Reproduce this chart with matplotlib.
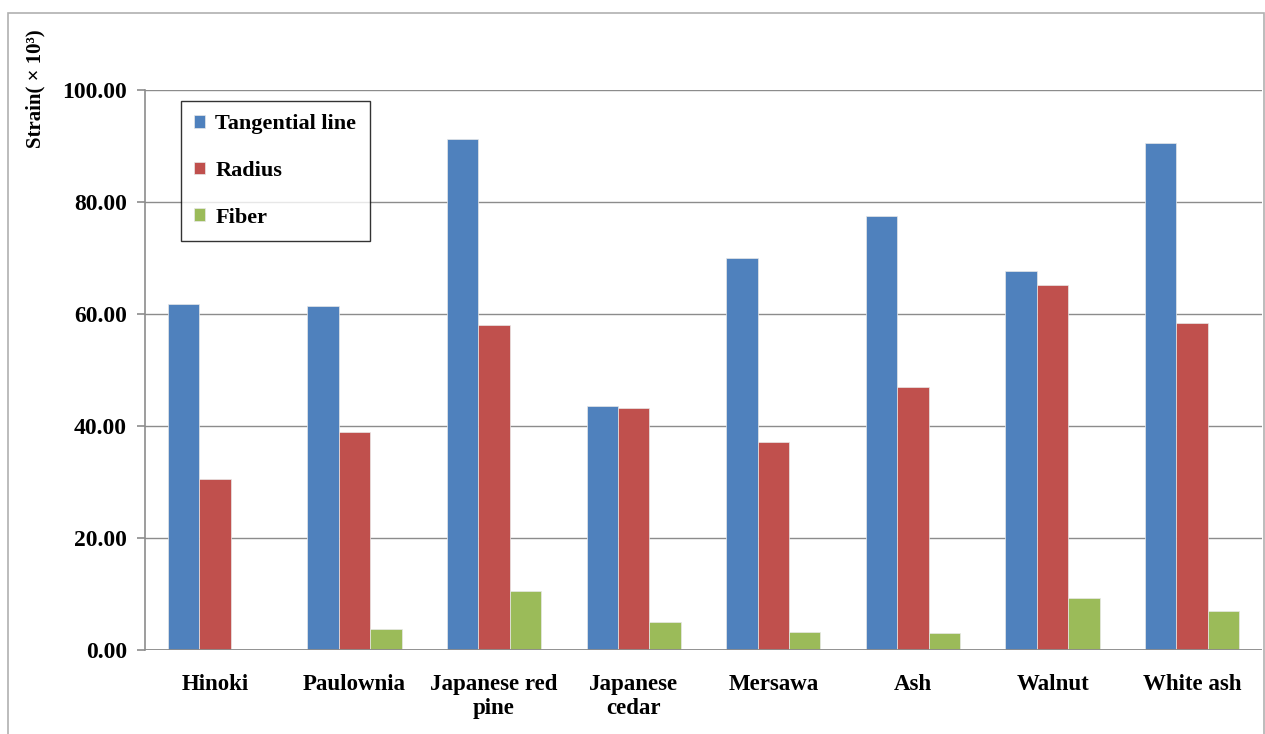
import matplotlib.pyplot as plt
import matplotlib.patches as patches
import numpy as np

woods = ["Hinoki", "Paulownia", "Japanese red\npine", "Japanese\ncedar",
         "Mersawa", "Ash", "Walnut", "White ash"]
tangential = [61.7, 61.5, 91.3, 43.6, 70.0, 77.5, 67.6, 90.5]
radius = [30.5, 38.9, 58.0, 43.2, 37.2, 47.0, 65.1, 58.4]
fiber = [-0.6, 3.8, 10.5, 5.0, 3.2, 3.0, 9.3, 6.9]
series = ["Tangential line", "Radius", "Fiber"]
colors = ["#4F81BD", "#C0504D", "#9BBB59"]

plt.rcParams['font.family'] = ['Liberation Serif', 'DejaVu Serif']
plt.rcParams['font.weight'] = 'bold'

fig = plt.figure(figsize=(12.65, 7.34), dpi=100)
ax = fig.add_axes([145 / 1265, 1 - 650 / 734, (1262 - 145) / 1265, 560 / 734])

# outer chart-area frame
fig.patches.append(patches.Rectangle((8 / 1265, -0.01), (1264 - 8) / 1265, 1 - 13 / 734 + 0.01,
                                     transform=fig.transFigure, fill=False,
                                     edgecolor="#B0B0B0", linewidth=1.2))

x = np.arange(len(woods))
w = 0.225
for i, (vals, name, c) in enumerate(zip([tangential, radius, fiber], series, colors)):
    ax.bar(x + (i - 1) * w, vals, w, color=c, edgecolor="#E8E8E8", linewidth=0.5,
           label=name, zorder=3)

ax.set_xlim(-0.5, 7.5)
ax.set_ylim(0, 100)
ax.set_yticks(np.arange(0, 101, 20))
ax.yaxis.set_major_formatter(plt.FormatStrFormatter('%.2f'))
ax.grid(axis='y', color="#8C8C8C", linewidth=1.0, zorder=0)
ax.axhline(0, color="#8C8C8C", linewidth=1.3, zorder=4)
ax.set_axisbelow(True)

for s in ['top', 'right', 'bottom']:
    ax.spines[s].set_visible(False)
ax.spines['left'].set_color("#8C8C8C")
ax.spines['left'].set_linewidth(1.2)

ax.set_xticks(x)
ax.set_xticklabels(woods, fontsize=16.5, fontweight='bold', linespacing=1.2)
ax.tick_params(axis='x', length=0, pad=17)
ax.tick_params(axis='y', length=6, width=1.2, color="#8C8C8C", labelsize=17, pad=7)

fig.text(35 / 1265, 1 - 89 / 734, "Strain( × 10³)", rotation=90, ha='center', va='center',
         fontsize=15, fontweight='bold')

leg = ax.legend(loc='upper left', bbox_to_anchor=(36 / 1117, 1 - 11 / 560), frameon=True,
                fancybox=False, edgecolor='black', fontsize=16, handlelength=0.5,
                handleheight=0.5, handletextpad=0.45, labelspacing=1.2, borderpad=0.6,
                borderaxespad=0)
leg.get_frame().set_linewidth(1.0)

fig.savefig("out.png", dpi=100)
